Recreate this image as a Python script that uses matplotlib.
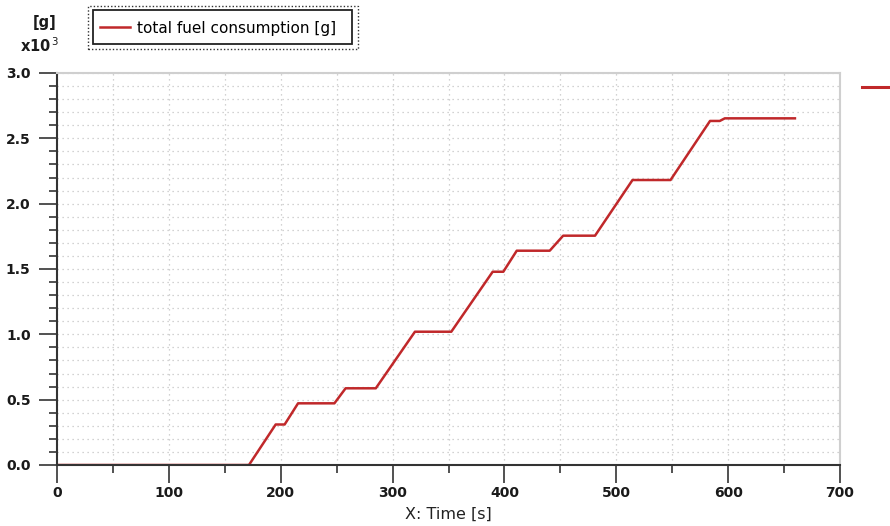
import matplotlib
matplotlib.use("Agg")

import matplotlib.pyplot as plt
from matplotlib.lines import Line2D
from matplotlib.patches import Rectangle
from matplotlib.ticker import MultipleLocator, FuncFormatter

# total fuel consumption trace, time [s] / fuel [x10^3 g]
time_s = [0, 171.6, 195.5, 203.5, 215.5, 248.0, 258.0, 285.0,
          320.0, 352.5, 389.5, 399.0, 411.0, 440.5, 452.5, 481.0,
          514.5, 548.5, 583.8, 592.5, 597.0, 659.7]
fuel_kg = [0.0, 0.0, 0.31, 0.31, 0.472, 0.472, 0.587, 0.587,
           1.02, 1.02, 1.479, 1.479, 1.64, 1.64, 1.755, 1.755,
           2.181, 2.181, 2.633, 2.633, 2.653, 2.653]

series_label = "total fuel consumption [g]"
x_label = "X: Time [s]"
y_unit = "[g]"

LINE_RED = "#c0282a"
GRID = "#c4c4c4"
DARK = "#333333"

fig = plt.figure(figsize=(8.9, 5.26), dpi=100)
ax = fig.add_axes([57 / 890, 1 - 465 / 526, 783 / 890, 392 / 526])

line, = ax.plot(time_s, fuel_kg, color=LINE_RED, lw=1.8,
                solid_joinstyle="round", label=series_label)

ax.set_xlim(0, 700)
ax.set_ylim(0, 3.0)

ax.xaxis.set_major_locator(MultipleLocator(100))
ax.xaxis.set_minor_locator(MultipleLocator(50))
ax.yaxis.set_major_locator(MultipleLocator(0.5))
ax.yaxis.set_minor_locator(MultipleLocator(0.1))
ax.yaxis.set_major_formatter(FuncFormatter(lambda v, p: f"{v:.1f}"))

ax.tick_params(which="major", length=13, width=1.2, color=DARK,
               labelsize=10, labelcolor="#1a1a1a")
ax.tick_params(axis="x", which="major", pad=2)
ax.tick_params(axis="y", which="major", pad=6)
ax.tick_params(which="minor", length=6, width=1.2, color=DARK)
for lbl in ax.get_xticklabels() + ax.get_yticklabels():
    lbl.set_fontweight("bold")

ax.grid(which="both", color=GRID, linestyle=(0, (1, 3)), linewidth=0.9)
ax.set_axisbelow(True)

for side in ("left", "bottom"):
    ax.spines[side].set_color(DARK)
    ax.spines[side].set_linewidth(1.5)
for side in ("top", "right"):
    ax.spines[side].set_color("#cfcfcf")
    ax.spines[side].set_linewidth(1.5)

ax.set_xlabel(x_label, fontsize=11.5, labelpad=5, color="#222222")

# unit and scale annotation above the y axis
fig.text(45 / 890, 1 - 22 / 526, y_unit, ha="center", va="center",
         fontsize=10.5, fontweight="bold", color="#1a1a1a")
fig.text(40 / 890, 1 - 46 / 526, r"x10$^{\,3}$", ha="center", va="center",
         fontsize=10.5, fontweight="bold", color="#1a1a1a")

# legend: entry without frame, then solid inner box and dotted outer box
fig.legend(handles=[line], loc="center left",
           bbox_to_anchor=(100 / 890, 1 - 28 / 526),
           frameon=False, fontsize=11, handlelength=1.95,
           handletextpad=0.5, borderpad=0, borderaxespad=0)
fig.add_artist(Rectangle((93 / 890, 1 - 44 / 526), 259 / 890, 34 / 526,
                         transform=fig.transFigure, fill=False,
                         edgecolor="#222222", linewidth=1.3))
fig.add_artist(Rectangle((88 / 890, 1 - 49 / 526), 270 / 890, 43 / 526,
                         transform=fig.transFigure, fill=False,
                         edgecolor="#333333", linestyle=(0, (1, 1.5)),
                         linewidth=1.0))

# clipped series marker at the right edge
fig.add_artist(Line2D([862 / 890, 1.0], [1 - 87 / 526, 1 - 87 / 526],
                      transform=fig.transFigure, color=LINE_RED, lw=2.2))

fig.savefig("out.png", dpi=100)
